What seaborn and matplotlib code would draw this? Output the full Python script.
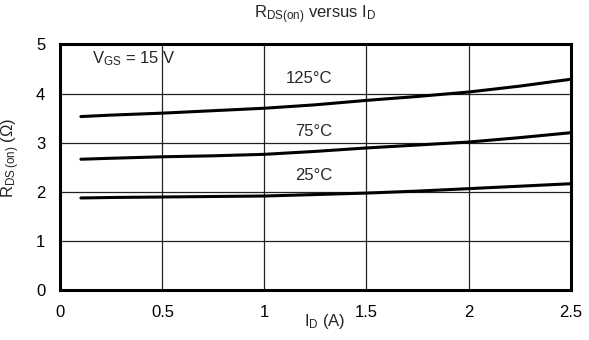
import matplotlib
matplotlib.use("Agg")
import matplotlib.pyplot as plt
import seaborn as sns
import pandas as pd

# Drain current (A) and on-resistance (ohm) at three junction temperatures
id_a = [0.1, 0.25, 0.5, 0.75, 1.0, 1.25, 1.5, 1.75, 2.0, 2.25, 2.5]
r_25c = [1.87, 1.88, 1.89, 1.90, 1.91, 1.94, 1.97, 2.01, 2.06, 2.11, 2.16]
r_75c = [2.66, 2.68, 2.71, 2.73, 2.76, 2.82, 2.89, 2.95, 3.01, 3.10, 3.20]
r_125c = [3.53, 3.56, 3.60, 3.65, 3.70, 3.77, 3.86, 3.94, 4.03, 4.15, 4.29]
temps = ["25°C", "75°C", "125°C"]
label_x = [1.24, 1.24, 1.22]
label_y = [2.32, 3.22, 4.31]

sns.set_theme(style="white")
plt.rcParams["font.family"] = ["Liberation Sans", "DejaVu Sans"]
plt.rcParams["mathtext.default"] = "regular"

df = pd.DataFrame({
    "I_D": id_a * 3,
    "R": r_25c + r_75c + r_125c,
    "T": sum([[t] * len(id_a) for t in temps], []),
})

fig = plt.figure(figsize=(5.89, 3.40), dpi=100)
ax = fig.add_axes([0.1027, 0.148, 0.8659, 0.7212])

sns.lineplot(data=df, x="I_D", y="R", hue="T", palette=["black"] * 3,
             linewidth=2.2, legend=False, ax=ax)

fs = 12
ax.set_xlim(0, 2.5)
ax.set_ylim(0, 5)
ax.set_xticks([0, 0.5, 1, 1.5, 2, 2.5])
ax.set_xticklabels(["0", "0.5", "1", "1.5", "2", "2.5"])
ax.set_yticks([0, 1, 2, 3, 4, 5])
ax.tick_params(axis="both", length=0, labelsize=fs, colors="black")
ax.tick_params(axis="x", pad=11)
ax.tick_params(axis="y", pad=11)
ax.grid(True, color="#222222", linewidth=0.9)
for s in ax.spines.values():
    s.set_visible(True)
    s.set_color("black")
    s.set_linewidth(2.2)

ax.set_xlabel("$I_D$ (A)", fontsize=fs)
ax.xaxis.set_label_coords(0.519, -0.09)
ax.set_ylabel("$R_{DS\\,(on)}$ (Ω)", fontsize=fs)
ax.yaxis.set_label_coords(-0.075, 0.537)

for t, x, y in zip(temps, label_x, label_y):
    ax.text(x, y, t, ha="center", va="center", fontsize=fs)
ax.text(0.155, 4.72, "$V_{GS}$ = 15 V", ha="left", va="center", fontsize=fs)

ax.set_title("$R_{DS(on)}$ versus $I_D$", fontsize=fs, pad=19)

fig.savefig("out.png", dpi=100, facecolor="white")
